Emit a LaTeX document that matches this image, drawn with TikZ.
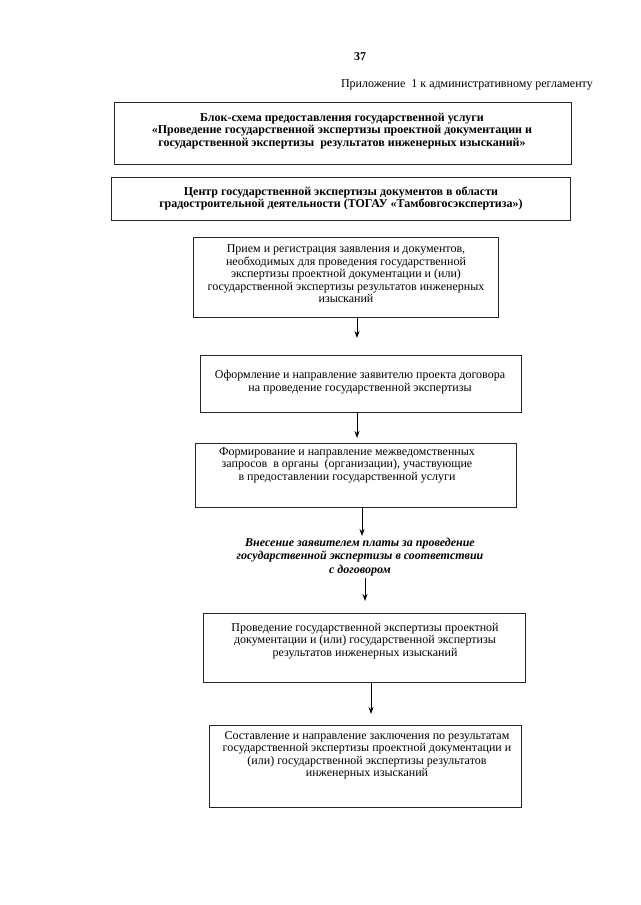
\documentclass[tikz,border=0pt]{standalone}
\usepackage{fontspec}
\setmainfont{Liberation Serif}
\usetikzlibrary{arrows.meta}
\begin{document}
\begin{tikzpicture}[x=1pt,y=-1pt,
  box/.style={draw=black!85, line width=0.9pt, inner sep=0pt},
  txt/.style={inner sep=0pt, align=center, font=\fontsize{12}{12.5}\selectfont},
  btxt/.style={inner sep=0pt, align=center, font=\fontsize{12}{12.5}\selectfont\bfseries},
  itxt/.style={inner sep=0pt, align=center, font=\fontsize{12}{13.5}\selectfont\bfseries\itshape},
  arr/.style={-{Stealth[length=7pt,width=5pt]}, line width=0.9pt}]
\useasboundingbox[fill=white] (0,0) rectangle (640,905);

% page number and header
\node[btxt] (pnum) at (360,57) {37};
\node[txt, anchor=east] (hdr) at (593,85) {Приложение\ \ 1 к административному регламенту};

% boxes
\node[box, minimum width=457pt, minimum height=62pt] (title) at (342.5,133) {};
\node[box, minimum width=459pt, minimum height=43pt] (center) at (340.5,198.5) {};
\node[box, minimum width=305pt, minimum height=80pt] (b3) at (345.5,277) {};
\node[box, minimum width=321pt, minimum height=57pt] (b4) at (360.5,383.5) {};
\node[box, minimum width=321pt, minimum height=64pt] (b5) at (355.5,475) {};
\node[box, minimum width=322pt, minimum height=69pt] (b6) at (364,647.5) {};
\node[box, minimum width=312pt, minimum height=82pt] (b7) at (365,766) {};

% texts
\node[btxt] (titletext) at (342,131) {Блок-схема предоставления государственной услуги\\
«Проведение государственной экспертизы проектной документации и\\
государственной экспертизы\ \ результатов инженерных изысканий»};
\node[btxt] (centertext) at (341,198.5) {Центр государственной экспертизы документов в области\\
градостроительной деятельности (ТОГАУ «Тамбовгосэкспертиза»)};
\node[txt] (t3) at (346,274) {Прием и регистрация заявления и документов,\\
необходимых для проведения государственной\\
экспертизы проектной документации и (или)\\
государственной экспертизы результатов инженерных\\
изысканий};
\node[txt] (t4) at (360,382) {Оформление и направление заявителю проекта договора\\
на проведение государственной экспертизы};
\node[txt] (t5) at (347,465) {Формирование и направление межведомственных\\
запросов\ \ в органы\ \ (организации), участвующие\\
в предоставлении государственной услуги};
\node[itxt] (pay) at (360,557) {Внесение заявителем платы за проведение\\
государственной экспертизы в соответствии\\
с договором};
\node[txt] (t6) at (365,641) {Проведение государственной экспертизы проектной\\
документации и (или) государственной экспертизы\\
результатов инженерных изысканий};
\node[txt] (t7) at (367,755.5) {Составление и направление заключения по результатам\\
государственной экспертизы проектной документации и\\
(или) государственной экспертизы результатов\\
инженерных изысканий};

% arrows
\coordinate (a1) at (357,338);
\coordinate (a2) at (357,438);
\coordinate (a3) at (362,536);
\coordinate (a4s) at (365,578);
\coordinate (a4) at (365,601);
\coordinate (a5) at (371,714);
\draw[arr] (b3.south -| a1) -- (a1);
\draw[arr] (b4.south -| a2) -- (a2);
\draw[arr] (b5.south -| a3) -- (a3);
\draw[arr] (a4s) -- (a4);
\draw[arr] (b6.south -| a5) -- (a5);
\end{tikzpicture}
\end{document}
